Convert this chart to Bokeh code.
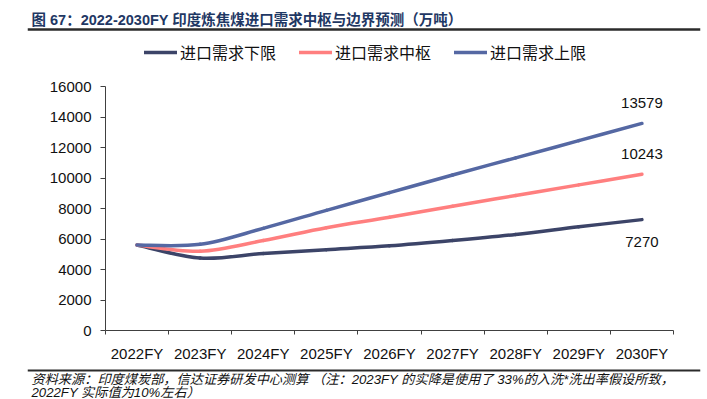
from bokeh.plotting import figure
from bokeh.models import (FixedTicker, Legend, LegendItem, Label, Span, Grid,
                          ColumnDataSource, Range1d, LinearAxis)
from bokeh.core.properties import value
from bokeh.embed import file_html
from bokeh.resources import INLINE

# ---------------- data ----------------
categories = ["2022FY", "2023FY", "2024FY", "2025FY", "2026FY",
              "2027FY", "2028FY", "2029FY", "2030FY"]
lower = [5600, 4750, 5050, 5300, 5550, 5900, 6300, 6800, 7270]
middle = [5600, 5200, 5900, 6740, 7420, 8150, 8850, 9550, 10243]
upper = [5600, 5650, 6700, 7880, 9040, 10200, 11320, 12450, 13579]
series_names = ["进口需求下限", "进口需求中枢", "进口需求上限"]
series_colors = ["#3C4468", "#FF7F7F", "#5568A3"]
y_ticks = [0, 2000, 4000, 6000, 8000, 10000, 12000, 14000, 16000]

title_text = "图 67：2022-2030FY 印度炼焦煤进口需求中枢与边界预测（万吨）"
note1 = "资料来源：印度煤炭部，信达证券研发中心测算   （注：2023FY 的实降是使用了 33%的入洗*洗出率假设所致，"
note2 = "2022FY 实际值为10%左右）"

FONT = "Liberation Sans, Arial, Noto Sans CJK SC"
CJK = "Noto Sans CJK SC"
LW = 3.5

# ---------------- layout (pixels of the page) ----------------
W, H = 707, 399
FRAME_L, FRAME_R = 27, 700          # frame spans the rules' width
AX_L, AX_R = 105, 673               # plotting area (axes) left / right
AX_B, AX_T = 330, 86                # y = 0 and y = max tick
ncat = len(categories)
sx = (AX_R - AX_L) / ncat
sy = (AX_B - AX_T) / (y_ticks[-1] - y_ticks[0])


def px2x(px):
    return (px - AX_L) / sx


def py2y(py):
    return y_ticks[0] + (AX_B - py) / sy


p = figure(width=W, height=H, output_backend="svg", toolbar_location=None,
           x_range=Range1d(px2x(FRAME_L), px2x(FRAME_R)),
           y_range=Range1d(py2y(H), py2y(0)),
           x_axis_location=None, y_axis_location=None,
           min_border_left=FRAME_L, min_border_right=W - FRAME_R,
           min_border_top=0, min_border_bottom=0)
p.outline_line_color = None
p.background_fill_color = "white"
p.border_fill_color = "white"
for g in p.select(type=Grid):
    g.visible = False

centers = [i + 0.5 for i in range(ncat)]

xaxis = LinearAxis(fixed_location=y_ticks[0], bounds=(0, ncat),
                   ticker=FixedTicker(ticks=centers, minor_ticks=list(range(ncat + 1))))
xaxis.major_label_overrides = {c: lab for c, lab in zip(centers, categories)}
xaxis.major_tick_line_color = None
xaxis.minor_tick_line_color = "#404040"
xaxis.minor_tick_in = 0
xaxis.minor_tick_out = 4
xaxis.axis_line_color = "#404040"
xaxis.major_label_text_font = FONT
xaxis.major_label_text_font_size = "15px"
xaxis.major_label_text_color = "#111111"
xaxis.major_label_standoff = 8
p.add_layout(xaxis, "below")

yaxis = LinearAxis(fixed_location=0, bounds=(y_ticks[0], y_ticks[-1]),
                   ticker=FixedTicker(ticks=y_ticks))
yaxis.minor_tick_line_color = None
yaxis.major_tick_in = 0
yaxis.major_tick_out = 5
yaxis.major_tick_line_color = "#404040"
yaxis.axis_line_color = "#404040"
yaxis.major_label_text_font = FONT
yaxis.major_label_text_font_size = "15px"
yaxis.major_label_text_color = "#111111"
yaxis.major_label_standoff = 9
p.add_layout(yaxis, "left")


def smooth_segments(vals):
    """Bezier segments (Catmull-Rom style, like a spreadsheet's smoothed line)."""
    n = len(vals)
    xs = centers
    d = dict(x0=[], y0=[], x1=[], y1=[], cx0=[], cy0=[], cx1=[], cy1=[])
    for i in range(n - 1):
        im1 = max(i - 1, 0)
        ip2 = min(i + 2, n - 1)
        d["x0"].append(xs[i]); d["y0"].append(vals[i])
        d["x1"].append(xs[i + 1]); d["y1"].append(vals[i + 1])
        d["cx0"].append(xs[i] + (xs[i + 1] - xs[im1]) / 6)
        d["cy0"].append(vals[i] + (vals[i + 1] - vals[im1]) / 6)
        d["cx1"].append(xs[i + 1] - (xs[ip2] - xs[i]) / 6)
        d["cy1"].append(vals[i + 1] - (vals[ip2] - vals[i]) / 6)
    return ColumnDataSource(d)


leg_items = []
for vals, name, col in zip([lower, middle, upper], series_names, series_colors):
    r = p.bezier(x0="x0", y0="y0", x1="x1", y1="y1", cx0="cx0", cy0="cy0",
                 cx1="cx1", cy1="cy1", source=smooth_segments(vals),
                 line_color=col, line_width=LW, line_cap="round")
    leg_items.append(LegendItem(label=name, renderers=[r]))

legend = Legend(items=leg_items, orientation="horizontal",
                location=(144 - FRAME_L, H - 64),
                glyph_width=33, glyph_height=20, label_standoff=3, spacing=23,
                padding=0, margin=0, border_line_color=None, background_fill_alpha=0,
                label_text_font=CJK, label_text_font_size="16px",
                label_text_color="#111111", label_height=20)
p.add_layout(legend, "center")

# end-value labels
end_x = [centers[-1]] * 3
end_y = [upper[-1], middle[-1], lower[-1]]
end_txt = [str(v) for v in end_y]
offs = [-20, -20, 22]
p.text(x=end_x, y=end_y, text=end_txt, y_offset=offs, text_align="center",
       text_baseline="middle", text_font=value(FONT), text_font_size="15px",
       text_color="#111111")

# title + rule
p.add_layout(Label(x=px2x(31), y=py2y(19), text=title_text, text_font=FONT,
                   text_font_style="bold", text_font_size="14.5px",
                   text_color="#1F3864", text_baseline="middle"))
p.add_layout(Span(location=py2y(29), dimension="width", line_color="#2B2B2B", line_width=2.5))

# footnote + rule
p.add_layout(Span(location=py2y(370), dimension="width", line_color="#2B2B2B", line_width=2))
p.add_layout(Label(x=px2x(31), y=py2y(379), text=note1, text_font=FONT,
                   text_font_style="italic", text_font_size="13.2px",
                   text_color="#111111", text_baseline="middle"))
p.add_layout(Label(x=px2x(31), y=py2y(392), text=note2, text_font=FONT,
                   text_font_style="italic", text_font_size="13.2px",
                   text_color="#111111", text_baseline="middle"))

open("out.html", "w").write(file_html(p, INLINE))
